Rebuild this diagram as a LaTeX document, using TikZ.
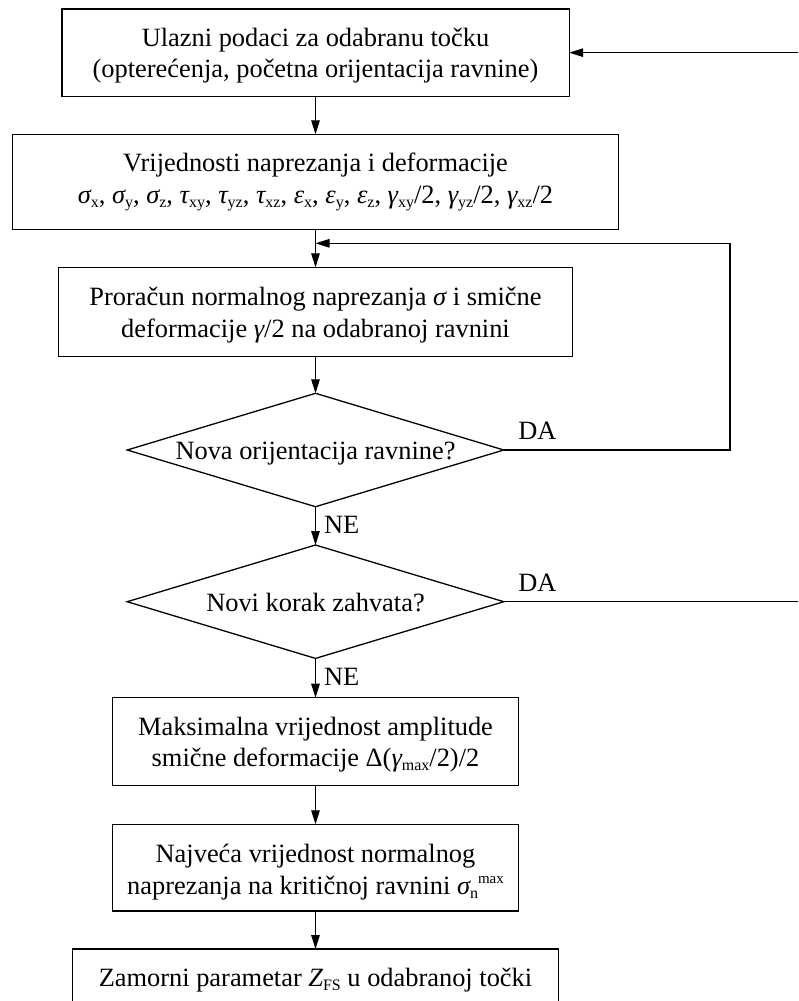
\documentclass[tikz,border=0pt]{standalone}
\usepackage{fontspec}
\setmainfont{Liberation Serif}
\usetikzlibrary{arrows.meta,shapes.geometric}
\newcommand\mysub[1]{\raisebox{-4pt}{\fontsize{16}{16}\selectfont #1}}
\newcommand\mysup[1]{\raisebox{11pt}{\fontsize{15}{15}\selectfont #1}}
\newcommand\gsig{{\itshape σ}}
\newcommand\gtau{{\itshape τ}}
\newcommand\geps{{\itshape ε}}
\newcommand\ggam{{\itshape γ}}
\newcommand\btxt[2]{\raisebox{#1}[0pt][0pt]{\makebox[0pt]{\begin{tabular}[t]{@{}c@{}}#2\end{tabular}}}}
\begin{document}
\begin{tikzpicture}[x=1pt,y=-1pt,
  every node/.style={font=\fontsize{26.4}{31.5}\selectfont, inner sep=0pt, outer sep=0pt},
  box/.style={draw, line width=1.3pt, rectangle},
  dec/.style={draw, line width=1.3pt, diamond, minimum width=376.6pt, minimum height=113.4pt},
  lbl/.style={anchor=base west},
  conn/.style={line width=1.3pt},
  arr/.style={conn, -{Triangle[length=14pt,width=8.5pt]}}]
\path[use as bounding box, fill=white] (0,0) rectangle (798,1001);

\node[box, minimum width=507.3pt, minimum height=87.3pt] (b1) at (315.5,52.65)
  {\btxt{6.65pt}{Ulazni podaci za odabranu točku\\(opterećenja, početna orijentacija ravnine)}};
\node[box, minimum width=606.3pt, minimum height=95pt] (b2) at (315.5,181.8)
  {\btxt{10.1pt}{Vrijednosti naprezanja i deformacije\\
  \gsig\mysub{x}, \gsig\mysub{y}, \gsig\mysub{z}, \gtau\mysub{xy}, \gtau\mysub{yz}, \gtau\mysub{xz}, \geps\mysub{x}, \geps\mysub{y}, \geps\mysub{z}, \ggam\mysub{xy}/2, \ggam\mysub{yz}/2, \ggam\mysub{xz}/2}};
\node[box, minimum width=514pt, minimum height=89.4pt] (b3) at (315.5,312)
  {\btxt{6.3pt}{Proračun normalnog naprezanja \gsig\ i smične\\deformacije \ggam/2 na odabranoj ravnini}};
\node[dec] (d1) at (315.5,450)
  {\btxt{-9pt}{Nova orijentacija ravnine?}};
\node[dec] (d2) at (315.5,601.7)
  {\btxt{-9.3pt}{Novi korak zahvata?}};
\node[box, minimum width=405.6pt, minimum height=87.6pt] (b4) at (315.5,741.5)
  {\btxt{6.5pt}{Maksimalna vrijednost amplitude\\smične deformacije Δ(\ggam\mysub{max}/2)/2}};
\node[box, minimum width=405.6pt, minimum height=86.7pt] (b5) at (315.5,867.65)
  {\btxt{5pt}{Najveća vrijednost normalnog\\naprezanja na kritičnoj ravnini \gsig\mysub{n}\mysup{max}}};
\node[box, minimum width=485.6pt, minimum height=62pt] (b6) at (315.5,980)
  {\btxt{-6.7pt}{Zamorni parametar {\itshape Z}\mysub{FS} u odabranoj točki}};

\coordinate (j) at (315.5,243.3);
\coordinate (lc) at (730,243.3);
\coordinate (r1) at (798,52.65);
\coordinate (r2) at (798,601.7);

\draw[arr] (b1.south) -- (b2.north);
\draw[arr] (b2.south) -- (b3.north);
\draw[arr] (b3.south) -- (d1.north);
\draw[arr] (d1.east) -| (lc) -- (j);
\draw[arr] (d1.south) -- (d2.north);
\draw[conn] (d2.east) -- (r2);
\draw[arr] (r1) -- (b1.east);
\draw[arr] (d2.south) -- (b4.north);
\draw[arr] (b4.south) -- (b5.north);
\draw[arr] (b5.south) -- (b6.north);

\node[lbl] (da1) at (518.3,439) {DA};
\node[lbl] (da2) at (518.3,591.7) {DA};
\node[lbl] (ne1) at (324,533.3) {NE};
\node[lbl] (ne2) at (324,685) {NE};
\end{tikzpicture}
\end{document}
